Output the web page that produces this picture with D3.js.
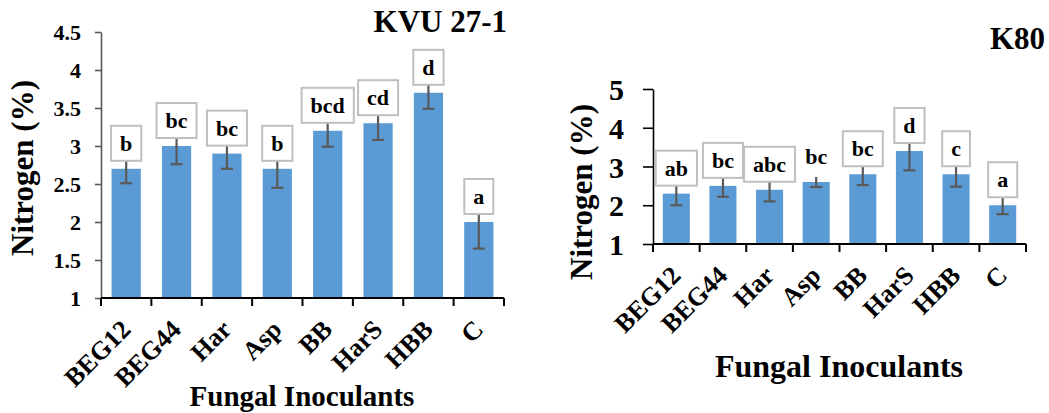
<!DOCTYPE html>
<html>
<head>
<meta charset="utf-8">
<script src="https://cdn.jsdelivr.net/npm/d3@7"></script>
<style>
  body { margin: 0; background: #fff; }
  svg text { font-family: "Liberation Serif", "Times New Roman", serif; font-weight: bold; fill: #000; }
</style>
</head>
<body>
<svg width="1049" height="413"></svg>
<script>
// fungal inoculants on x, nitrogen (%) on y
const categories = ["BEG12", "BEG44", "Har", "Asp", "BB", "HarS", "HBB", "C"];

const kvuValues  = [2.7, 3.0, 2.9, 2.7, 3.2, 3.3, 3.7, 2.0];
const kvuErrors  = [0.19, 0.24, 0.2, 0.25, 0.21, 0.22, 0.21, 0.35];
const kvuLetters = ["b", "bc", "bc", "b", "bcd", "cd", "d", "a"];
const kvuTicks   = [1, 1.5, 2, 2.5, 3, 3.5, 4, 4.5];

const k80Values  = [2.3, 2.5, 2.4, 2.6, 2.8, 3.4, 2.8, 2.0];
const k80Errors  = [0.3, 0.28, 0.3, 0.13, 0.28, 0.5, 0.32, 0.23];
const k80Letters = ["ab", "bc", "abc", "bc", "bc", "d", "c", "a"];
const k80Boxed   = [true, true, true, false, true, true, true, true];
const k80Ticks   = [1, 2, 3, 4, 5];

const svg = d3.select("svg");
const serif = "Liberation Serif";
const barColor = "#5b9bd5";
const errColor = "#595959";

function drawPanel(p) {
    const g = svg.append("g");
    const x = d3.scaleBand().domain(categories).range([p.x0, p.x1])
                .paddingInner(0.42).paddingOuter(0.21);
    const y = d3.scaleLinear().domain([p.ticks[0], p.ticks[p.ticks.length - 1]])
                .range([p.y0, p.y1]);

    // bars
    g.selectAll("rect.bar").data(categories)
        .enter().append("rect")
        .attr("x", d => x(d))
        .attr("width", x.bandwidth())
        .attr("y", (d, i) => y(p.values[i]))
        .attr("height", (d, i) => y(p.ticks[0]) - y(p.values[i]))
        .attr("fill", barColor);

    // error bars (top half ends up under the letter boxes)
    const eb = g.selectAll("g.err").data(categories).enter().append("g")
        .attr("transform", d => "translate(" + (x(d) + x.bandwidth() / 2) + ",0)");
    eb.append("line")
        .attr("y1", (d, i) => y(p.values[i] + p.errors[i]))
        .attr("y2", (d, i) => y(p.values[i] - p.errors[i]))
        .attr("stroke", errColor).attr("stroke-width", 2.2);
    eb.append("line")
        .attr("x1", -6).attr("x2", 6)
        .attr("y1", (d, i) => y(p.values[i] - p.errors[i]))
        .attr("y2", (d, i) => y(p.values[i] - p.errors[i]))
        .attr("stroke", errColor).attr("stroke-width", 2.2);

    // y axis
    const yAxis = g.append("g")
        .attr("transform", "translate(" + p.x0 + ",0)")
        .call(d3.axisLeft(y).tickValues(p.ticks).tickSize(p.yTickLen).tickSizeOuter(0)
              .tickFormat(d3.format("")));
    yAxis.select(".domain").attr("stroke", p.yAxisColor).attr("stroke-width", 1.6);
    yAxis.selectAll(".tick line").attr("stroke", p.yAxisColor).attr("stroke-width", 1.6);
    yAxis.selectAll(".tick text")
        .attr("x", p.yLabelX - p.x0)
        .attr("dy", "0.35em")
        .style("font-size", p.yTickFont + "px")
        .style("font-family", serif);

    // x axis: labels at band centres, ticks at band edges
    const base = y(p.ticks[0]);
    const xAxis = g.append("g")
        .attr("transform", "translate(0," + base + ")")
        .call(d3.axisBottom(x).tickSize(0).tickSizeOuter(0));
    xAxis.select(".domain").attr("stroke", "#000").attr("stroke-width", 2)
        .attr("d", "M" + p.x0 + ",0H" + p.x1);
    xAxis.selectAll(".tick text")
        .attr("text-anchor", "end")
        .attr("y", 0).attr("dy", 0)
        .attr("transform", "translate(6,33) rotate(-45)")
        .style("font-size", "26px")
        .style("font-family", serif);
    const edges = d3.range(categories.length + 1).map(i => p.x0 + i * x.step());
    g.selectAll("line.edge").data(edges).enter().append("line")
        .attr("x1", d => d).attr("x2", d => d)
        .attr("y1", base).attr("y2", base + 8)
        .attr("stroke", "#000").attr("stroke-width", 2);

    // significance letters
    const lab = g.selectAll("g.lab").data(categories).enter().append("g")
        .attr("transform", (d, i) => "translate(" + (x(d) + x.bandwidth() / 2) + "," + (y(p.values[i]) - 8) + ")");
    lab.each(function(d, i) {
        const sel = d3.select(this);
        const rect = sel.append("rect");
        const t = sel.append("text")
            .attr("text-anchor", "middle")
            .attr("y", -10)
            .style("font-size", "22px")
            .text(p.letters[i]);
        const w = t.node().getComputedTextLength() + 18;
        if (!p.boxed || p.boxed[i]) {
            rect.attr("x", -w / 2).attr("y", -35).attr("width", w).attr("height", 35)
                .attr("fill", "#fff").attr("stroke", "#bfbfbf").attr("stroke-width", 2);
        } else {
            rect.remove();
        }
    });

    // titles
    g.append("text")
        .attr("x", p.titleX).attr("y", p.titleY)
        .attr("text-anchor", "end")
        .style("font-size", "31px")
        .text(p.title);
    g.append("text")
        .attr("transform", "translate(" + p.yTitleX + "," + p.yTitleY + ") rotate(-90)")
        .attr("text-anchor", "middle")
        .style("font-size", "31px")
        .text("Nitrogen (%)");
    g.append("text")
        .attr("x", p.xTitleX).attr("y", p.xTitleY)
        .attr("text-anchor", "middle")
        .style("font-size", p.xTitleFont + "px")
        .text("Fungal Inoculants");
}

drawPanel({
    values: kvuValues, errors: kvuErrors, letters: kvuLetters, ticks: kvuTicks,
    x0: 101, x1: 504, y0: 298, y1: 32,
    yTickLen: 6, yLabelX: 81, yTickFont: 22, yAxisColor: "#595959",
    title: "KVU 27-1", titleX: 507, titleY: 32,
    yTitleX: 33, yTitleY: 168,
    xTitleX: 302, xTitleY: 406, xTitleFont: 29
});

drawPanel({
    values: k80Values, errors: k80Errors, letters: k80Letters, ticks: k80Ticks, boxed: k80Boxed,
    x0: 653, x1: 1026, y0: 244, y1: 89,
    yTickLen: 10, yLabelX: 624, yTickFont: 30, yAxisColor: "#000",
    title: "K80", titleX: 1045, titleY: 49,
    yTitleX: 592, yTitleY: 192,
    xTitleX: 839, xTitleY: 377, xTitleFont: 32
});
</script>
</body>
</html>
